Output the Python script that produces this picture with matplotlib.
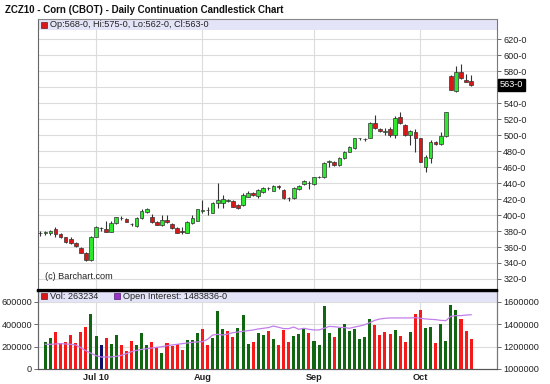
import matplotlib
matplotlib.use("Agg")
import matplotlib.pyplot as plt
from matplotlib.patches import Rectangle
import numpy as np

plt.rcParams["font.family"] = ["Liberation Sans", "DejaVu Sans"]

# ---------------- data ----------------
title = "ZCZ10 - Corn (CBOT) - Daily Continuation Candlestick Chart"

opens = [377, 378, 377, 382, 376, 372, 369.7, 365.5, 359, 353,
         343.4, 373, 383.4, 382, 379.3, 389.7, 396, 394.7, 388.4, 386.4,
         396, 404, 398, 391.7, 387.5, 393.8, 388.8, 383.4, 379.5, 378,
         389.6, 392.5, 405.5, 406.3, 403, 414.7, 415.5, 418, 418, 412.6,
         413, 423, 427, 424, 429.3, 433.5, 430.6, 436, 431.4, 421,
         421, 432.2, 438.9, 439.7, 438.9, 447.2, 447.2, 466.8, 466.8, 462.7,
         471, 479.4, 483.5, 496, 494.8, 496.8, 514.8, 507.3, 504.4, 507.3,
         500.2, 523, 512.7, 500.2, 504.4, 496, 460.5, 471, 491.8, 488.9,
         498.9, 574.1, 555.7, 579.5, 569, 568]
highs = [380, 380, 381, 385.5, 377, 373, 373, 366.5, 360, 354,
         374, 386.5, 385.5, 392, 392, 398, 398.9, 396, 390.5, 398,
         407, 408.4, 401, 392.5, 400, 400, 390, 385.5, 385.5, 392,
         400, 408, 418.8, 410.5, 416.8, 439.7, 425, 420, 419, 414,
         428, 429.5, 428.5, 433, 435, 435.5, 437.5, 437, 432, 422,
         434.5, 437.5, 443.5, 443, 448, 448.5, 466, 469, 467.5, 473,
         480.5, 486.5, 497, 497, 496, 516.8, 525, 509, 508.5, 510.6,
         524, 529.4, 514, 506, 507.3, 497, 475, 494, 493, 504.4,
         529, 575, 586.6, 589, 576.5, 575]
lows = [374, 375.5, 375.5, 373, 371, 365, 363.4, 360, 352, 342.5,
        342.5, 372, 380.5, 378.8, 378.5, 388.9, 393.8, 391, 386.4, 385.5,
        395, 402, 389.6, 387, 386.7, 389.6, 383, 377, 376.3, 377,
        389, 392, 402, 400, 402, 408.4, 408.4, 416, 410, 407.5,
        411, 422, 423.5, 421.5, 428, 431.5, 429.5, 432, 420, 417,
        420.5, 431, 438, 433, 438, 446, 446.5, 460, 462, 461,
        470, 478.5, 482.5, 494.5, 493, 496, 507.3, 504, 500.2, 498,
        496, 514, 499, 487.7, 479.3, 466, 454.3, 465.5, 487.5, 487.7,
        498, 556, 554.5, 570, 566, 562]
closes = [377, 378.5, 380.5, 376, 373, 366, 364.6, 361.3, 353, 343.4,
          373, 385.5, 383.6, 379.3, 389.7, 397.2, 396.5, 391.8, 388.6, 396,
          405.6, 407, 391.7, 387.5, 393.8, 391.7, 384.2, 378, 379, 391.7,
          395.9, 407.2, 405.8, 406, 415.5, 418.8, 419.6, 418.5, 410.5, 408.4,
          425, 428, 424.5, 431.4, 433.5, 433.8, 436.4, 434.5, 421, 421.2,
          433.5, 436.4, 442.7, 440, 447.2, 447.5, 464.8, 467, 462.7, 471,
          479.4, 485.6, 496, 496.2, 495, 514.8, 508.5, 505.6, 504.6, 500.2,
          521.9, 514.8, 500.2, 505.2, 496, 466.8, 473, 491.8, 488.9, 498.9,
          528.5, 556.6, 579.5, 571.2, 567, 563]

# volume (first session has no volume bar shown)
volume = [np.nan,
          237000, 272000, 329000, 228000, 237000, 305000, 228000, 326000, 376000, 492000,
          293000, 216000, 272000, 222000, 305000, 210000, 163000, 252000, 210000, 320000,
          216000, 237000, 193000, 142000, 228000, 201000, 222000, 172000, 258000, 258000,
          320000, 361000, 216000, 272000, 513000, 356000, 340000, 287000, 367000, 477000,
          222000, 237000, 320000, 299000, 335000, 267000, 210000, 350000, 237000, 293000,
          311000, 361000, 320000, 252000, 216000, 560000, 320000, 281000, 367000, 397000,
          335000, 356000, 267000, 281000, 450000, 388000, 299000, 326000, 314000, 344000,
          293000, 237000, 326000, 489000, 527000, 367000, 373000, 231000, 400000, 252000,
          575000, 527000, 444000, 338000, 267000]
# session direction vs previous close: u = up, d = down, n = unchanged
vol_dir = "".join(["-",
                   "uudddddddu", "unduuddduu", "uddudddduu", "udduuudduu",
                   "uduududddu", "uuduuuuduu", "uuuuuddddu", "ddudduuduu",
                   "uuddd"])

open_interest = [np.nan,
                 1220000, 1220000, 1223000, 1226000, 1223000, 1220000, 1214000, 1190000, 1163000, 1140000,
                 1119000, 1107000, 1107000, 1107000, 1113000, 1122000, 1137000, 1155000, 1166000, 1175000,
                 1181000, 1187000, 1193000, 1199000, 1208000, 1214000, 1220000, 1226000, 1232000, 1238000,
                 1241000, 1244000, 1265000, 1303000, 1309000, 1303000, 1312000, 1324000, 1330000, 1336000,
                 1342000, 1348000, 1357000, 1363000, 1369000, 1383000, 1372000, 1360000, 1360000, 1374000,
                 1354000, 1363000, 1354000, 1348000, 1348000, 1363000, 1380000, 1377000, 1372000, 1369000,
                 1363000, 1374000, 1383000, 1395000, 1413000, 1434000, 1446000, 1452000, 1455000, 1455000,
                 1455000, 1455000, 1455000, 1458000, 1452000, 1446000, 1443000, 1440000, 1434000, 1431000,
                 1470000, 1476000, 1476000, 1481000, 1483836]

month_labels = ["Jul 10", "Aug", "Sep", "Oct"]
month_start_idx = [11, 32, 54, 75]

price_ticks = list(range(320, 621, 20))
vol_ticks = [0, 200000, 400000, 600000]
oi_ticks = [1000000, 1200000, 1400000, 1600000]

last_vol = 263234
last_oi = "1483836-0"

assert len(vol_dir) == len(opens) == len(volume) == len(open_interest)

# ---------------- figure ----------------
W, H = 550, 384
fig = plt.figure(figsize=(W / 100, H / 100), dpi=100)
fig.patch.set_facecolor("white")


def rect(l, t, r, b):
    return [l / W, 1 - b / H, (r - l) / W, (b - t) / H]


ax1 = fig.add_axes(rect(37.5, 19, 497, 290))
ax2 = fig.add_axes(rect(37.5, 291, 497, 369), sharex=ax1)

x = np.arange(len(opens))
o = np.array(opens); c = np.array(closes)
hi = np.array(highs); lo = np.array(lows)

GRID = "#DCDCDC"
SMALL = 6.6
TXT = "#222222"

# ---- main panel ----
ax1.set_xlim(-0.55, 90.1)
ax1.set_ylim(306.2, 645.4)
for m in month_start_idx:
    ax1.axvline(m, color=GRID, lw=0.8, zorder=0)
for p in price_ticks:
    ax1.axhline(p, color=GRID, lw=0.8, zorder=0)

up = c >= o
body_bottom = np.minimum(o, c)
body_h = np.maximum(np.abs(c - o), 0.9)
colors = np.where(up, "#2EE82E", "#D81818")
ax1.vlines(x, lo, hi, color="#333333", lw=0.8, zorder=2)
ax1.bar(x, body_h, bottom=body_bottom, width=0.72, color=colors,
        edgecolor="#333333", linewidth=0.5, zorder=3)

# lavender legend band
band_frac = 11 / 271
ax1.add_patch(Rectangle((0, 1 - band_frac), 1, band_frac, transform=ax1.transAxes,
                        facecolor="#E4E4F8", edgecolor="none", zorder=1))
ax1.plot([0.014], [1 - band_frac / 2], marker="s", ms=4, color="#D81818",
         mec="#550000", mew=0.4, transform=ax1.transAxes, zorder=5, clip_on=False)
ax1.text(0.028, 1 - band_frac / 2,
         f"Op:{opens[-1]:.0f}-0, Hi:{highs[-1]:.0f}-0, Lo:{lows[-1]:.0f}-0, Cl:{closes[-1]:.0f}-0",
         transform=ax1.transAxes, fontsize=SMALL, va="center", ha="left", color=TXT, zorder=5)
ax1.text(0.017, 0.035, "(c) Barchart.com", transform=ax1.transAxes, fontsize=SMALL,
         va="bottom", ha="left", color=TXT)

last_close = round(closes[-1])
ax1.yaxis.tick_right()
ax1.set_yticks(price_ticks)
ax1.set_yticklabels(["" if abs(p - last_close) < 8 else f"{p}-0" for p in price_ticks])
ax1.tick_params(axis="y", direction="out", length=3, width=0.6, colors="#555555",
                labelsize=SMALL, labelcolor=TXT, pad=1.5)
ax1.tick_params(axis="x", length=0, labelbottom=False)
ax1.text(1.006, closes[-1], f"{last_close}-0", transform=ax1.get_yaxis_transform(),
         fontsize=SMALL, color="white", va="center", ha="left",
         bbox=dict(boxstyle="square,pad=0.15", facecolor="black", edgecolor="black"))
ax1.spines["top"].set_color("#888888")
ax1.spines["left"].set_color("#666666")
ax1.spines["right"].set_color("#777777")
ax1.spines["bottom"].set_color("black")
ax1.spines["bottom"].set_linewidth(1.6)

# ---- volume panel ----
vmax = 600000 * (369 - 291) / (369 - 301.7)
ax2.set_ylim(0, vmax)
for m in month_start_idx:
    ax2.axvline(m, color=GRID, lw=0.8, zorder=0)
for v in vol_ticks[1:]:
    ax2.axhline(v, color=GRID, lw=0.8, zorder=0)
cmap = {"u": "#116611", "d": "#F41A1A", "n": "#10106A", "-": "#888888"}
vcol = [cmap[d] for d in vol_dir]
ax2.bar(x, volume, width=0.6, color=vcol, zorder=2)

ax2.set_yticks(vol_ticks)
ax2.set_yticklabels([f"{v}" for v in vol_ticks])
ax2.tick_params(axis="y", direction="out", length=3, width=0.6, colors="#555555",
                labelsize=SMALL, labelcolor=TXT, pad=1)
ax2.set_xticks(month_start_idx)
ax2.set_xticklabels(month_labels, fontweight="bold")
ax2.tick_params(axis="x", length=0, labelsize=SMALL, labelcolor=TXT, pad=3)

ax3 = ax2.twinx()
ax3.set_ylim(1000000, 1000000 + vmax)
ax3.plot(x, open_interest, color="#C27EEA", lw=0.9, zorder=3)
ax3.set_yticks(oi_ticks)
ax3.set_yticklabels([f"{v}" for v in oi_ticks])
ax3.tick_params(axis="y", direction="out", length=3, width=0.6, colors="#555555",
                labelsize=SMALL, labelcolor=TXT, pad=1.5)

band2 = (vmax - 600000) / vmax
ax2.add_patch(Rectangle((0, 1 - band2), 1, band2, transform=ax2.transAxes,
                        facecolor="#E4E4F8", edgecolor="none", zorder=1))
ax2.plot([0.014], [1 - band2 / 2], marker="s", ms=4, color="#D81818",
         mec="#550000", mew=0.4, transform=ax2.transAxes, zorder=5, clip_on=False)
ax2.text(0.028, 1 - band2 / 2, f"Vol: {last_vol}", transform=ax2.transAxes,
         fontsize=SMALL, va="center", ha="left", color=TXT, zorder=5)
ax2.plot([0.172], [1 - band2 / 2], marker="s", ms=4, color="#9933CC",
         mec="#330055", mew=0.4, transform=ax2.transAxes, zorder=5, clip_on=False)
ax2.text(0.186, 1 - band2 / 2, f"Open Interest: {last_oi}", transform=ax2.transAxes,
         fontsize=SMALL, va="center", ha="left", color=TXT, zorder=5)

for a in (ax2, ax3):
    a.spines["top"].set_color("black")
    a.spines["top"].set_linewidth(1.6)
    a.spines["left"].set_color("#666666")
    a.spines["right"].set_color("#777777")
    a.spines["bottom"].set_color("#555555")

fig.text(5 / W, 1 - 10 / H, title, fontsize=7.0, fontweight="bold",
         va="center", ha="left", color="#111111")

fig.savefig("out.png", dpi=100)
